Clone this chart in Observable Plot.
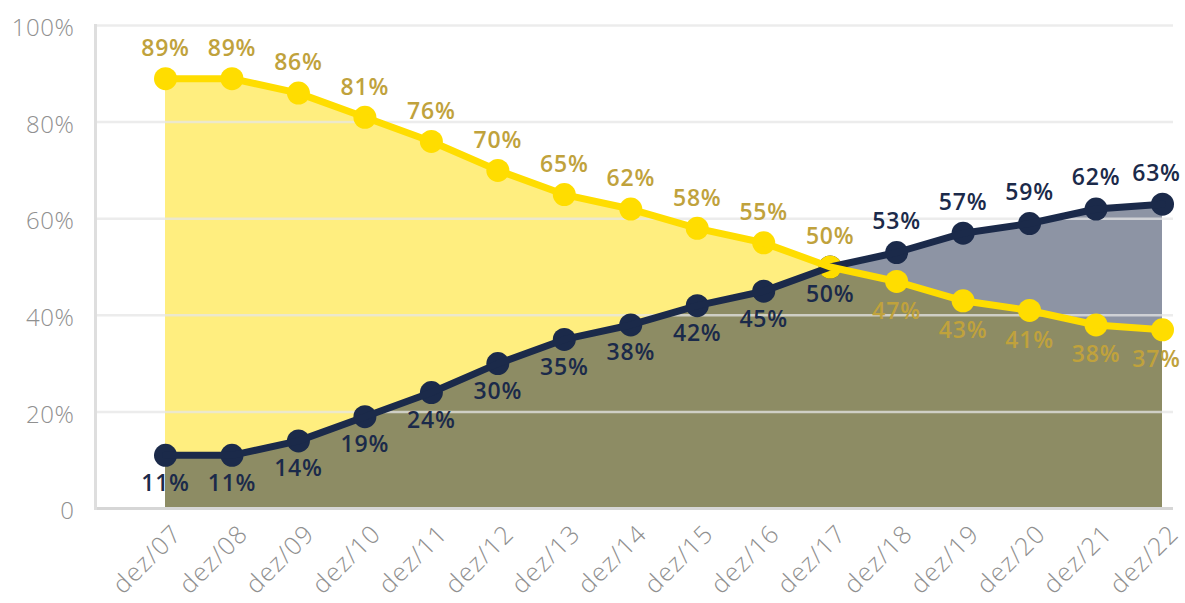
<!DOCTYPE html>
<html>
<head>
<meta charset="utf-8">
<script src="https://cdn.jsdelivr.net/npm/d3@7"></script>
<script src="https://cdn.jsdelivr.net/npm/@observablehq/plot@0.6"></script>
<style>
  html, body { margin: 0; padding: 0; background: #ffffff; }
  #chart svg { display: block; }
  #chart g[aria-label="text"] text { letter-spacing: 0.8px; }
  #chart g[aria-label="x-axis tick label"] text { letter-spacing: 1.3px; }
  #chart g[aria-label="y-axis tick label"] text { letter-spacing: 0.6px; }
</style>
</head>
<body>
<div id="chart"></div>
<script>
const dates = ["dez/07","dez/08","dez/09","dez/10","dez/11","dez/12","dez/13","dez/14","dez/15","dez/16","dez/17","dez/18","dez/19","dez/20","dez/21","dez/22"];
const yellowValues = [89, 89, 86, 81, 76, 70, 65, 62, 58, 55, 50, 47, 43, 41, 38, 37];
const navyValues   = [11, 11, 14, 19, 24, 30, 35, 38, 42, 45, 50, 53, 57, 59, 62, 63];
const yTicks = [0, 20, 40, 60, 80, 100];
const gridTicks = [20, 40, 60, 80, 100];

const YELLOW = "#FFDD00";
const YELLOW_TEXT = "#C0A23C";
const NAVY = "#1B2A4A";

const lastIndex = dates.length - 1;
const yellowRows = dates.map((d, i) => ({date: d, value: yellowValues[i], above: yellowValues[i] >= navyValues[i], last: i === lastIndex}));
const navyRows = dates.map((d, i) => ({date: d, value: navyValues[i], above: navyValues[i] > yellowValues[i], last: i === lastIndex}));

const labelFont = {fontSize: 23, fontWeight: 600, fontFamily: "Open Sans"};

function labels(rows, color, dyAbove, dyBelow) {
  const text = d => d.value + "%";
  return [
    Plot.text(rows, {x: "date", y: "value", text, fill: color, filter: d => d.above && !d.last, ...labelFont, dy: dyAbove}),
    Plot.text(rows, {x: "date", y: "value", text, fill: color, filter: d => d.above && d.last, ...labelFont, dy: dyAbove, dx: -6}),
    Plot.text(rows, {x: "date", y: "value", text, fill: color, filter: d => !d.above && !d.last, ...labelFont, dy: dyBelow}),
    Plot.text(rows, {x: "date", y: "value", text, fill: color, filter: d => !d.above && d.last, ...labelFont, dy: dyBelow, dx: -6})
  ];
}

const chart = Plot.plot({
  width: 1185,
  height: 603,
  marginLeft: 95,
  marginRight: 12,
  marginTop: 25,
  marginBottom: 95,
  style: {fontFamily: "Open Sans", background: "#ffffff"},
  x: {type: "point", domain: dates, padding: 0, round: false, insetLeft: 70, insetRight: 11, label: null},
  y: {domain: [0, 100], label: null},
  marks: [
    Plot.areaY(yellowRows, {x: "date", y: "value", fill: YELLOW, fillOpacity: 0.5}),
    Plot.areaY(navyRows, {x: "date", y: "value", fill: NAVY, fillOpacity: 0.5}),
    Plot.ruleY(gridTicks, {stroke: "#e6e6e6", strokeWidth: 2.5, strokeOpacity: 0.75}),
    Plot.ruleY([0], {stroke: "#d6d6d6", strokeWidth: 3}),
    Plot.frame({anchor: "left", stroke: "#dedede", strokeWidth: 3}),
    Plot.axisY(yTicks, {tickSize: 0, tickPadding: 21, dy: 3, tickFormat: d => d === 0 ? "0" : d + "%", fontSize: 24, fontWeight: 300, fill: "#909090", label: null}),
    Plot.axisX({tickSize: 0, tickPadding: 21, dx: 12, tickRotate: -45, fontSize: 25, fontWeight: 300, fill: "#909090", label: null}),
    Plot.dot(navyRows, {x: "date", y: "value", r: 11.5, fill: NAVY}),
    Plot.dot(yellowRows, {x: "date", y: "value", r: 11.5, fill: YELLOW}),
    Plot.line(navyRows, {x: "date", y: "value", stroke: NAVY, strokeWidth: 7}),
    Plot.line(yellowRows, {x: "date", y: "value", stroke: YELLOW, strokeWidth: 7}),
    ...labels(yellowRows, YELLOW_TEXT, -30, 30),
    ...labels(navyRows, NAVY, -31, 28)
  ]
});
document.getElementById("chart").appendChild(chart);
</script>
</body>
</html>
